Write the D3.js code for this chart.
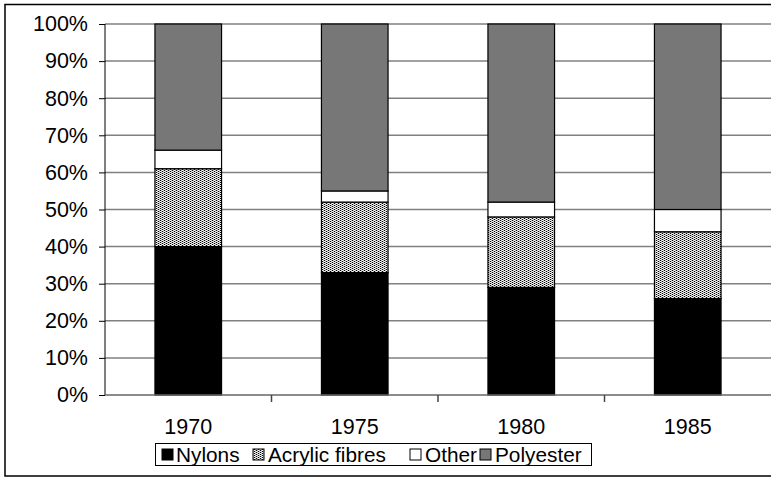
<!DOCTYPE html>
<html><head><meta charset="utf-8">
<script src="https://cdn.jsdelivr.net/npm/d3@7"></script>
<style>html,body{margin:0;padding:0;background:#fff}svg{display:block}text{font-family:"Liberation Sans",Arial,sans-serif}</style>
</head><body>
<svg id="c" width="771" height="477"></svg>
<script>
const years = ["1970","1975","1980","1985"];
const seriesNames = ["Nylons","Acrylic fibres","Other","Polyester"];
const nylons = [40,33,29,26];
const acrylic = [21,19,19,18];
const other = [5,3,4,6];
const polyester = [34,45,48,50];
const yTicks = [0,10,20,30,40,50,60,70,80,90,100];

const svg = d3.select("#c");
const defs = svg.append("defs");
const pat = defs.append("pattern").attr("id","dots").attr("patternUnits","userSpaceOnUse")
  .attr("width",4).attr("height",2);
pat.append("rect").attr("width",4).attr("height",2).attr("fill","#ffffff");
pat.append("rect").attr("x",1).attr("y",0).attr("width",1).attr("height",2).attr("fill","#c0c0c0");
pat.append("rect").attr("x",3).attr("y",0).attr("width",1).attr("height",2).attr("fill","#c0c0c0");
pat.append("rect").attr("x",0).attr("y",0).attr("width",1).attr("height",1).attr("fill","#000");
pat.append("rect").attr("x",2).attr("y",1).attr("width",1).attr("height",1).attr("fill","#000");

const fills = ["#000000","url(#dots)","#ffffff","#777777"];

// outer border
svg.append("rect").attr("x",5).attr("y",4.5).attr("width",800).attr("height",471.5)
  .attr("fill","none").attr("stroke","#000").attr("stroke-width",1.5);

const x = d3.scaleBand().domain(years).range([105,771]).paddingInner(0.6).paddingOuter(0.3);
const y = d3.scaleLinear().domain([0,100]).range([395,24]);

// gridlines
svg.append("g").selectAll("line").data(yTicks.filter(d=>d>0)).join("line")
  .attr("x1",105).attr("x2",771).attr("y1",d=>y(d)).attr("y2",d=>y(d))
  .attr("stroke","#808080").attr("stroke-width",1.5);

// y axis
const ya = svg.append("g").attr("transform","translate(105,0)")
  .call(d3.axisLeft(y).tickValues(yTicks).tickFormat(d=>d+"%").tickSize(6).tickPadding(11));
ya.select(".domain").attr("stroke","#000").attr("d","M0,"+y(100)+"V"+y(0));
ya.selectAll(".tick line").attr("stroke","#000");
ya.selectAll("text").attr("font-size",21.5).attr("fill","#000").attr("font-family","Liberation Sans, Arial, sans-serif");

// stacked bars
const data = years.map((yr,i)=>({year:yr,Nylons:nylons[i],"Acrylic fibres":acrylic[i],Other:other[i],Polyester:polyester[i]}));
const stack = d3.stack().keys(seriesNames)(data);
svg.append("g").selectAll("g").data(stack).join("g")
  .attr("fill",(d,i)=>fills[i])
  .selectAll("rect").data(d=>d).join("rect")
  .attr("x",d=>x(d.data.year)).attr("width",x.bandwidth())
  .attr("y",d=>y(d[1])).attr("height",d=>y(d[0])-y(d[1]))
  .attr("stroke","#000").attr("stroke-width",1.2);

// x axis
const boundaries = years.slice(1).map(yr=>x(yr)-x.step()*x.paddingInner()/2);
svg.append("line").attr("x1",105).attr("x2",771).attr("y1",y(0)).attr("y2",y(0))
  .attr("stroke","#666").attr("stroke-width",1.5);
svg.append("g").selectAll("line").data(boundaries).join("line")
  .attr("x1",d=>d).attr("x2",d=>d).attr("y1",y(0)).attr("y2",y(0)+7)
  .attr("stroke","#444").attr("stroke-width",1.5);
svg.append("g").selectAll("text").data(years).join("text")
  .attr("x",d=>x(d)+x.bandwidth()/2).attr("y",434).attr("text-anchor","middle")
  .attr("font-size",21.5).attr("fill","#000").text(d=>d);

// legend
const lg = svg.append("g");
lg.append("rect").attr("x",155.5).attr("y",443.5).attr("width",436).attr("height",22)
  .attr("fill","#fff").attr("stroke","#000").attr("stroke-width",1);
const swX = [162,253,410,480];
const txX = [176,268,425,495];
seriesNames.forEach((s,i)=>{
  lg.append("rect").attr("x",swX[i]).attr("y",449).attr("width",11).attr("height",11)
    .attr("fill",fills[i]).attr("stroke","#000").attr("stroke-width",1);
  lg.append("text").attr("x",txX[i]).attr("y",462).attr("font-size",20.8).attr("fill","#000").text(s);
});
</script>
</body></html>
